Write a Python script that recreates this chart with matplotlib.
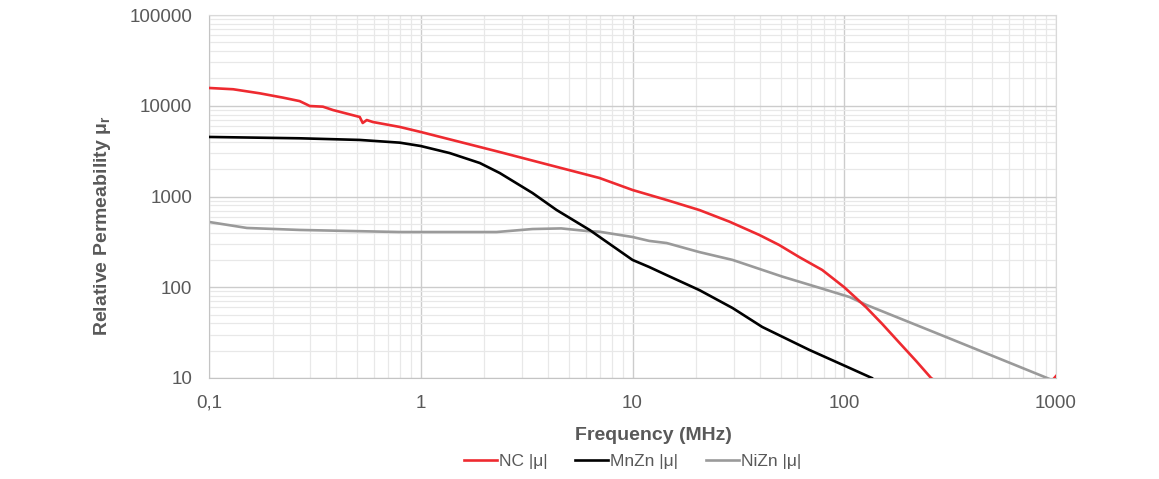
import matplotlib
matplotlib.use("Agg")
import matplotlib.pyplot as plt
from matplotlib.ticker import FixedLocator, FixedFormatter, NullFormatter

plt.rcParams['font.family'] = ['Liberation Sans', 'DejaVu Sans']
plt.rcParams['mathtext.fontset'] = 'custom'
plt.rcParams['mathtext.rm'] = 'Liberation Sans'
plt.rcParams['mathtext.bf'] = 'Liberation Sans:bold'

# данные (частота в МГц, относительная проницаемость)
nc_freq = [0.1, 0.13, 0.174, 0.223, 0.268, 0.29, 0.299, 0.345, 0.385, 0.515, 0.532,
           0.556, 0.594, 0.796, 1.0, 2.36, 4.05, 6.98, 10, 14.5, 20.7, 28.7, 39.7,
           49.3, 61.3, 78.7, 100, 127, 151, 182, 219, 257, 400, 700, 1000]
nc_mu = [15700, 15200, 13700, 12300, 11250, 10300, 9930, 9770, 8970, 7520, 6460,
         6960, 6620, 5840, 5140, 3090, 2225, 1600, 1180, 915, 709, 528, 377,
         292, 215, 155, 100, 60, 39.5, 24.5, 15.3, 10, 5, 4, 10.5]

mn_freq = [0.1, 0.268, 0.515, 0.796, 1.0, 1.37, 1.9, 2.36, 3.37, 4.38, 6.27, 10,
           12, 14.5, 20.7, 29.7, 41, 61.3, 68.4, 106, 135]
mn_mu = [4530, 4380, 4200, 3920, 3600, 3010, 2340, 1815, 1093, 710, 428, 200,
         167, 136, 93, 59, 36.5, 23.1, 20.4, 12.9, 10]

ni_freq = [0.1, 0.151, 0.268, 0.796, 2.28, 3.37, 4.6, 6.06, 6.98, 10, 12, 14.5,
           20.7, 29.7, 51, 73.8, 106, 127, 313, 908, 1000]
ni_mu = [524, 450, 428, 406, 406, 438, 445, 417, 409, 358, 324, 307,
         244, 200, 131, 101, 78, 64, 27.4, 10, 9.1]

x_ticks = [0.1, 1, 10, 100, 1000]
x_labels = ['0,1', '1', '10', '100', '1000']
y_ticks = [10, 100, 1000, 10000, 100000]
y_labels = ['10', '100', '1000', '10000', '100000']

text_color = '#595959'

fig = plt.figure(figsize=(11.59, 4.79), dpi=100)
ax = fig.add_axes([209 / 1159, 1 - 378 / 479, (1056 - 209) / 1159, (378 - 15) / 479])

ax.plot(nc_freq, nc_mu, color='#ee2a30', lw=1.9, label='NC |μ|', zorder=4)
ax.plot(mn_freq, mn_mu, color='black', lw=1.9, label='MnZn |μ|', zorder=3)
ax.plot(ni_freq, ni_mu, color='#9a9a9a', lw=1.9, label='NiZn |μ|', zorder=2)

ax.set_xscale('log')
ax.set_yscale('log')
ax.set_xlim(0.1, 1000)
ax.set_ylim(10, 100000)

ax.xaxis.set_major_locator(FixedLocator(x_ticks))
ax.xaxis.set_major_formatter(FixedFormatter(x_labels))
ax.yaxis.set_major_locator(FixedLocator(y_ticks))
ax.yaxis.set_major_formatter(FixedFormatter(y_labels))
ax.xaxis.set_minor_formatter(NullFormatter())
ax.yaxis.set_minor_formatter(NullFormatter())

ax.tick_params(which='both', length=0, colors=text_color, labelsize=13.5)
ax.tick_params(axis='y', pad=12)
ax.tick_params(axis='x', pad=12)

ax.grid(True, which='major', color='#cccccc', lw=1.0)
ax.grid(True, which='minor', color='#e8e8e8', lw=0.9)
ax.set_axisbelow(True)

for side in ['top', 'right']:
    ax.spines[side].set_color('#d9d9d9')
for side in ['left', 'bottom']:
    ax.spines[side].set_color('#c4c4c4')

ax.set_xlabel('Frequency (MHz)', fontsize=14, fontweight='bold', color=text_color)
ax.xaxis.set_label_coords((653 - 209) / 847, -(427 - 378) / 363)
ax.set_ylabel(r'Relative Permeability μ$_\mathbf{r}$', fontsize=14, fontweight='bold',
              color=text_color)
ax.yaxis.set_label_coords(-(209 - 113) / 847, 1 - (226 - 15) / 363)

leg = ax.legend(loc='center', bbox_to_anchor=(0.5, -(461 - 378) / 363), ncol=3,
                frameon=False, fontsize=12.5, handlelength=1.9, handletextpad=0.1,
                columnspacing=1.6)
for t in leg.get_texts():
    t.set_color(text_color)

plt.savefig('out.png', dpi=100)
